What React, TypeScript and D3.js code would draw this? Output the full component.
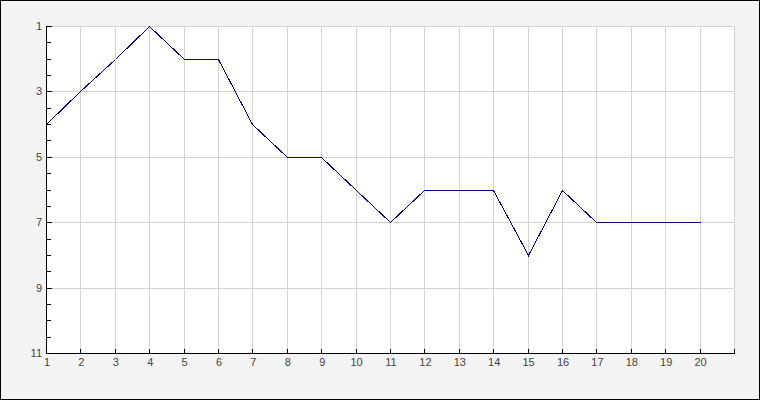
import React from "react";
import * as d3 from "d3";

const xValues = [1, 2, 3, 4, 5, 6, 7, 8, 9, 10, 11, 12, 13, 14, 15, 16, 17, 18, 19, 20];
const yValues = [4, 3, 2, 1, 2, 2, 4, 5, 5, 6, 7, 6, 6, 6, 8, 6, 7, 7, 7, 7];
const xTickLabels = [1, 2, 3, 4, 5, 6, 7, 8, 9, 10, 11, 12, 13, 14, 15, 16, 17, 18, 19, 20];
const yTickLabels = [1, 3, 5, 7, 9, 11];
const xDomain = [1, 21];
const yDomain = [1, 11];

export default function App() {
  const W = 760;
  const H = 400;
  const left = 46;
  const right = 734;
  const top = 26;
  const bottom = 353;

  const x = d3.scaleLinear().domain(xDomain).range([left, right]);
  const y = d3.scaleLinear().domain(yDomain).range([top, bottom]);
  const px = (v: number) => Math.round(v) + 0.5;

  const line = d3
    .line<number>()
    .x((_, i) => px(x(xValues[i])))
    .y((d) => px(y(d)));

  const xGrid = d3.range(xDomain[0] + 1, xDomain[1] + 1, 1);
  const yGrid = d3.range(yDomain[0], yDomain[1], 2);
  const yMinor = d3.range(yDomain[0], yDomain[1] + 0.001, 0.5);
  const xTicks = d3.range(xDomain[0], xDomain[1] + 1, 1);

  const font = "'Liberation Sans', Arial, sans-serif";

  return (
    <svg
      width={W}
      height={H}
      style={{ position: "absolute", left: 0, top: 0, display: "block" }}
    >
      <rect x={0.5} y={0.5} width={W - 1} height={H - 1} fill="#f3f3f3" stroke="#000" />
      <rect x={left} y={top} width={right - left} height={bottom - top} fill="#fff" />
      <g stroke="#d3d3d3" strokeWidth={1} shapeRendering="crispEdges">
        {xGrid.map((v) => (
          <line key={"gx" + v} x1={px(x(v))} x2={px(x(v))} y1={top} y2={bottom} />
        ))}
        {yGrid.map((v) => (
          <line key={"gy" + v} x1={left} x2={right + 1} y1={px(y(v))} y2={px(y(v))} />
        ))}
      </g>
      <path
        d={line(yValues) || ""}
        fill="none"
        stroke="#000080"
        strokeWidth={1}
        shapeRendering="crispEdges"
      />
      <g stroke="#000" strokeWidth={1} shapeRendering="crispEdges">
        <line x1={px(left)} x2={px(left)} y1={top} y2={bottom + 1} />
        <line x1={left} x2={right + 1} y1={px(bottom)} y2={px(bottom)} />
        {yMinor.map((v) => {
          const major = yTickLabels.includes(v);
          return (
            <line
              key={"ty" + v}
              x1={left}
              x2={left + (major ? 6 : 5)}
              y1={px(y(v))}
              y2={px(y(v))}
            />
          );
        })}
        {xTicks.map((v) => (
          <line key={"tx" + v} x1={px(x(v))} x2={px(x(v))} y1={bottom - 4} y2={bottom} />
        ))}
      </g>
      <g fill="#444" fontFamily={font} fontSize={11}>
        {yTickLabels.map((v) => (
          <text key={"ly" + v} x={42} y={y(v)} textAnchor="end" dominantBaseline="central">
            {v}
          </text>
        ))}
        {xTickLabels.map((v) => (
          <text key={"lx" + v} x={x(v) + 1} y={bottom + 9} textAnchor="middle" dominantBaseline="central">
            {v}
          </text>
        ))}
      </g>
    </svg>
  );
}
